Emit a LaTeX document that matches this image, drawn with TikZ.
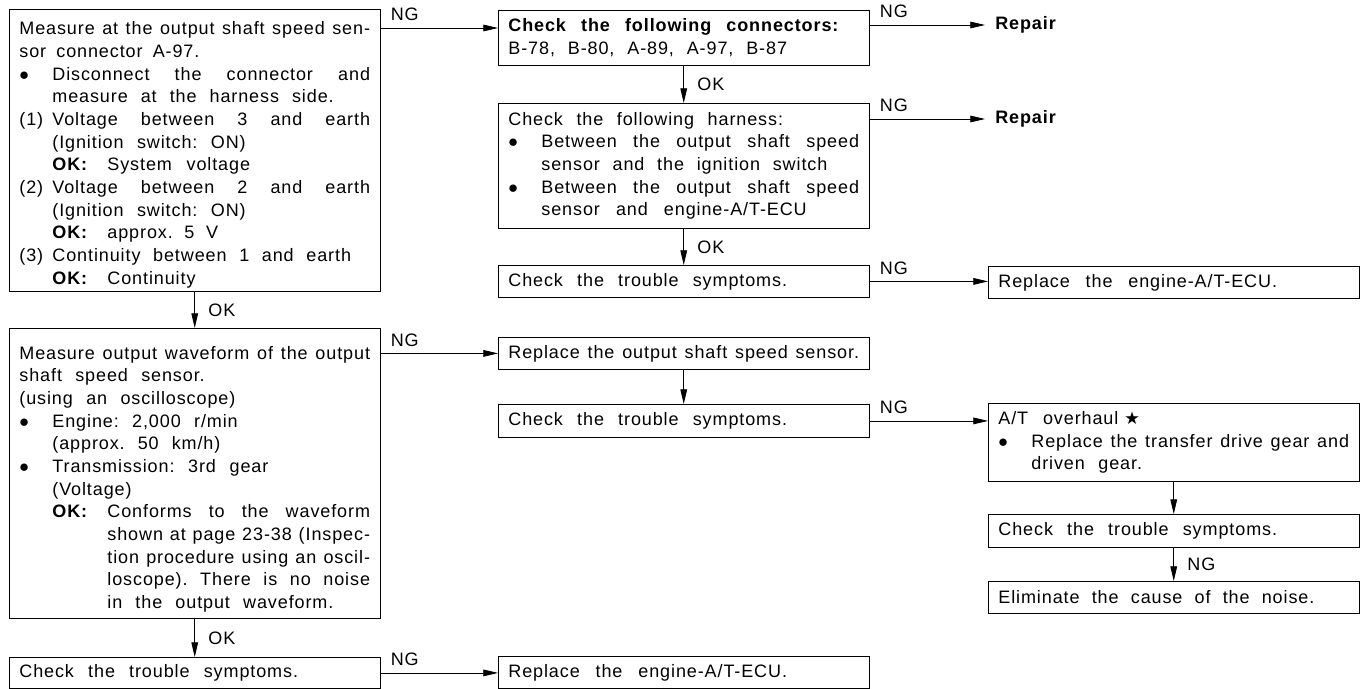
\documentclass[tikz,border=0pt]{standalone}
\usepackage{fontspec}
\setmainfont{Liberation Sans}[LetterSpace=5,WordSpace=1.2]
\newfontfamily\symfont{DejaVu Sans}
\usetikzlibrary{arrows.meta,positioning}

\newcommand{\spread}[2]{\leavevmode\hbox to #1{\frenchspacing
  \spaceskip=0.33em plus 1fil minus 0.1em\relax #2}}
\newcommand{\jline}[1]{\spread{263pt}{#1}}
\newcommand{\bul}{\makebox[24.75pt][l]{$\bullet$}}
\newcommand{\lab}[1]{\makebox[24.75pt][l]{#1}}
\newcommand{\ind}{\hspace*{24.75pt}}
\newcommand{\indd}{\hspace*{66pt}}
\newcommand{\okk}{\hspace*{24.75pt}\makebox[41.25pt][l]{\textbf{OK:}}}

\begin{document}
\begin{tikzpicture}[
  x=0.75pt,y=-0.75pt,
  font=\fontsize{13.5}{17}\selectfont,
  box/.style={draw,line width=0.6pt,anchor=north west,text width=263pt,
    inner xsep=7.5pt,inner ysep=2pt,align=left},
  arr/.style={-{Triangle[length=11pt,width=5pt]},line width=0.6pt},
  ng/.style={pos=0,anchor=south west,inner sep=0pt,xshift=7.5pt,yshift=5pt},
  ok/.style={anchor=west,inner sep=0pt,xshift=10pt},
  rep/.style={anchor=west,font=\fontsize{13.5}{17}\selectfont\bfseries,
    inner xsep=7.5pt,inner ysep=0pt},
]
\useasboundingbox (0,0) rectangle (1364,689);

% Left column
\node[box,minimum height=211.5pt] (meas) at (9,9) {%
  \rule{0pt}{16.5pt}\jline{Measure at the output shaft speed sen-}\\
  \spread{135pt}{sor connector A-97.}\\
  \jline{\bul Disconnect the connector and}\\
  \ind\spread{211pt}{measure at the harness side.}\\
  \jline{\lab{(1)}Voltage between 3 and earth}\\
  \ind\spread{145pt}{(Ignition switch: ON)}\\
  \okk\spread{107pt}{System voltage}\\
  \jline{\lab{(2)}Voltage between 2 and earth}\\
  \ind\spread{145pt}{(Ignition switch: ON)}\\
  \okk\spread{83pt}{approx. 5 V}\\
  \lab{(3)}\spread{224pt}{Continuity between 1 and earth}\\
  \okk Continuity};
\node[box,minimum height=217.5pt] (wave) at (9,328) {%
  \rule{0pt}{18.5pt}\jline{Measure output waveform of the output}\\
  \spread{139pt}{shaft speed sensor.}\\
  \spread{162pt}{(using an oscilloscope)}\\
  \bul\spread{139pt}{Engine: 2,000 r/min}\\
  \ind\spread{126pt}{(approx. 50 km/h)}\\
  \bul\spread{162pt}{Transmission: 3rd gear}\\
  \ind(Voltage)\\
  \jline{\okk Conforms to the waveform}\\
  \jline{\indd shown at page 23-38 (Inspec-}\\
  \jline{\indd tion procedure using an oscil-}\\
  \jline{\indd loscope). There is no noise}\\
  \indd\spread{169.5pt}{in the output waveform.}};
\node[box,minimum height=23.25pt] (symL) at (9,657) {\spread{209pt}{Check the trouble symptoms.}};

% Middle column
\node[box,minimum height=41.25pt] (conn) at (498,10) {%
  \spread{247.5pt}{\bfseries Check the following connectors:}\\
  \spread{209pt}{B-78, B-80, A-89, A-97, B-87}};
\node[box,minimum height=93.75pt] (harn) at (498,103) {%
  \spread{206pt}{Check the following harness:}\\
  \jline{\bul Between the output shaft speed}\\
  \ind\spread{214.5pt}{sensor and the ignition switch}\\
  \jline{\bul Between the output shaft speed}\\
  \ind\spread{199pt}{sensor and engine-A/T-ECU}};
\node[box,minimum height=24pt] (symA) at (498,265) {\spread{209pt}{Check the trouble symptoms.}};
\node[box,minimum height=24pt] (sens) at (498,337) {\jline{Replace the output shaft speed sensor.}};
\node[box,minimum height=24.75pt] (symB) at (498,404) {\spread{209pt}{Check the trouble symptoms.}};
\node[box,minimum height=24pt] (ecuB) at (498,656) {\spread{209pt}{Replace the engine-A/T-ECU.}};

% Right column
\node[rep] (rep1) at (985,25) {Repair};
\node[rep] (rep2) at (985,119) {Repair};
\node[box,minimum height=24pt] (ecuA) at (988,266) {\spread{209pt}{Replace the engine-A/T-ECU.}};
\node[box,minimum height=58.5pt] (ovh) at (988,403) {%
  \spread{90pt}{A/T overhaul} {\symfont\fontsize{13}{17}\selectfont ★}\\
  \jline{\bul Replace the transfer drive gear and}\\
  \ind\spread{83pt}{driven gear.}};
\node[box,minimum height=24.75pt] (symC) at (988,514) {\spread{209pt}{Check the trouble symptoms.}};
\node[box,minimum height=24pt] (noise) at (988,581) {\spread{237pt}{Eliminate the cause of the noise.}};

% NG branches
\draw[arr] (meas.east |- 0,28) -- node[ng]{NG} (conn.west |- 0,28);
\draw[arr] (conn.east |- rep1) -- node[ng]{NG} (rep1);
\draw[arr] (harn.east |- rep2) -- node[ng]{NG} (rep2);
\draw[arr] (symA.east) -- node[ng]{NG} (symA.east -| ecuA.west);
\draw[arr] (wave.east |- sens) -- node[ng]{NG} (sens);
\draw[arr] (symB.east) -- node[ng]{NG} (symB.east -| ovh.west);
\draw[arr] (symL.east) -- node[ng]{NG} (symL.east -| ecuB.west);

% OK branches
\draw[arr] (meas) -- node[ok]{OK} (wave);
\draw[arr] (wave) -- node[ok]{OK} (symL);
\draw[arr] (conn) -- node[ok]{OK} (harn);
\draw[arr] (harn) -- node[ok]{OK} (symA);
\draw[arr] (sens) -- (symB);
\draw[arr] (ovh) -- (symC);
\draw[arr] (symC) -- node[ok]{NG} (noise);

\end{tikzpicture}
\end{document}
